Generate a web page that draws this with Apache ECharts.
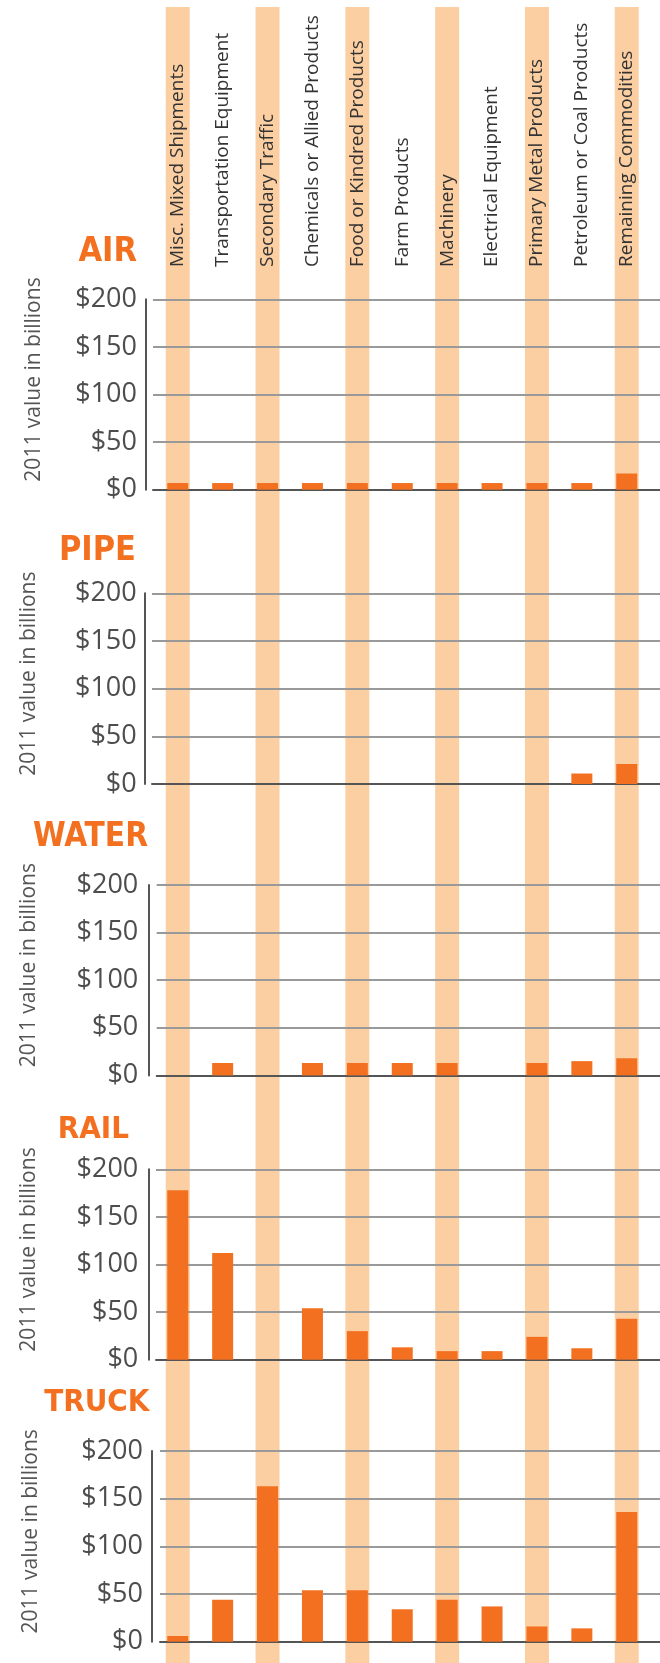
<!DOCTYPE html>
<html>
<head>
<meta charset="utf-8">
<style>html,body{margin:0;padding:0;background:#fff}</style>
</head>
<body>
<div id="container" style="width:660px;height:1663px;"></div>
<script src="https://cdn.jsdelivr.net/npm/echarts@6/dist/echarts.min.js"></script>
<script>
// commodity groups, left to right
var categories = ['Misc. Mixed Shipments','Transportation Equipment','Secondary Traffic',
  'Chemicals or Allied Products','Food or Kindred Products','Farm Products','Machinery',
  'Electrical Equipment','Primary Metal Products','Petroleum or Coal Products','Remaining Commodities'];
var modes = ['AIR','PIPE','WATER','RAIL','TRUCK'];

// 2011 value in billions of dollars (null = no bar)
var airValues   = [7, 7, 7, 7, 7, 7, 7, 7, 7, 7, 17];
var pipeValues  = [null, null, null, null, null, null, null, null, null, 11, 21];
var waterValues = [null, 13, null, 13, 13, 13, 13, null, 13, 15, 18];
var railValues  = [178, 112, null, 54, 30, 13, 9, 9, 24, 12, 43];
var truckValues = [6, 44, 163, 54, 54, 34, 44, 37, 16, 14, 136];
var modeValues = [airValues, pipeValues, waterValues, railValues, truckValues];

var yMin = 0, yMax = 200, yStep = 50;
// highlighted columns behind the charts
var shaded = categories.map(function(c, i){ return i % 2 === 0 ? 1 : null; });

// layout
var W = 660;
var bandLeft = 155.3, band = 44.9;
var panels = [
  {top:299.3,  h:190.4, left:153,   axisX:145.7, labelRight:137,   nameRight:45,   titleRight:137,   titleTop:235,    titleSize:34},
  {top:593.3,  h:190.7, left:152,   axisX:144.3, labelRight:136.7, nameRight:40,   titleRight:136,   titleTop:534.5,  titleSize:34},
  {top:885,    h:190.4, left:156.7, axisX:149,   labelRight:138.3, nameRight:39.3, titleRight:148,   titleTop:821,    titleSize:33},
  {top:1169.3, h:190.4, left:156,   axisX:148.3, labelRight:138.3, nameRight:40,   titleRight:129,   titleTop:1114.5, titleSize:31},
  {top:1451,   h:190.7, left:160,   axisX:151.5, labelRight:143,   nameRight:42,   titleRight:149.4, titleTop:1387,   titleSize:31}
];

var orange = '#f37021', peach = '#fccfa3';
var bodyFont = "'Open Sans', sans-serif";
var titleFont = "'Liberation Sans Narrow', 'DejaVu Sans Condensed', sans-serif";

var grids = [
  {left: bandLeft, width: band * categories.length, top: 7, bottom: 0},
  {left: bandLeft, width: band * categories.length, top: 269, height: 20}
];
var xAxes = [
  {type:'category', gridIndex:0, data:categories, show:false},
  {type:'category', gridIndex:1, data:categories, position:'top',
   axisLine:{show:false}, axisTick:{show:false},
   axisLabel:{rotate:90, margin:2, interval:0, fontSize:19, color:'#333', fontFamily:bodyFont}}
];
var yAxes = [
  {type:'value', gridIndex:0, min:0, max:1, show:false},
  {type:'value', gridIndex:1, show:false}
];
var titles = [];
var series = [
  {type:'bar', xAxisIndex:0, yAxisIndex:0, data:shaded, barWidth:24, silent:true, z:-1,
   itemStyle:{color:peach}}
];

panels.forEach(function(p, k){
  var gi = k + 2;
  grids.push({left:p.left, right:0, top:p.top, height:p.h});
  xAxes.push({type:'value', gridIndex:gi,
    min:(p.left - bandLeft) / band - 0.5, max:(W - bandLeft) / band - 0.5,
    axisLine:{show:true, onZero:false, lineStyle:{color:'#555', width:2}},
    axisTick:{show:false}, axisLabel:{show:false}, splitLine:{show:false}});
  yAxes.push({type:'value', gridIndex:gi, min:yMin, max:yMax, interval:yStep,
    offset:p.left - p.axisX,
    axisLine:{show:true, onZero:false, lineStyle:{color:'#555', width:2}},
    axisTick:{show:false},
    axisLabel:{margin:p.axisX - p.labelRight, fontSize:27, color:'#4d4d4d', fontFamily:bodyFont,
      padding:[0,0,8,0], formatter:function(v){ return '$' + v; }},
    splitLine:{lineStyle:{color:'#999', width:2}},
    name:'2011 value in billions', nameLocation:'middle', nameRotate:90,
    nameGap:p.axisX - p.nameRight,
    nameTextStyle:{fontSize:21, color:'#555', fontFamily:bodyFont, padding:[0,0,0,30]}});
  titles.push({text:modes[k], right:W - p.titleRight, top:p.titleTop, padding:0,
    textStyle:{color:orange, fontSize:p.titleSize, fontWeight:'bold', fontFamily:titleFont}});
  var pts = [];
  modeValues[k].forEach(function(v, i){ if (v !== null) pts.push([i, v]); });
  series.push({type:'bar', name:modes[k], xAxisIndex:gi, yAxisIndex:gi, data:pts,
    barWidth:21, itemStyle:{color:orange}});
});

var chart = echarts.init(document.getElementById('container'));
chart.setOption({
  animation:false,
  title:titles,
  grid:grids,
  xAxis:xAxes,
  yAxis:yAxes,
  series:series
});
</script>
</body>
</html>
